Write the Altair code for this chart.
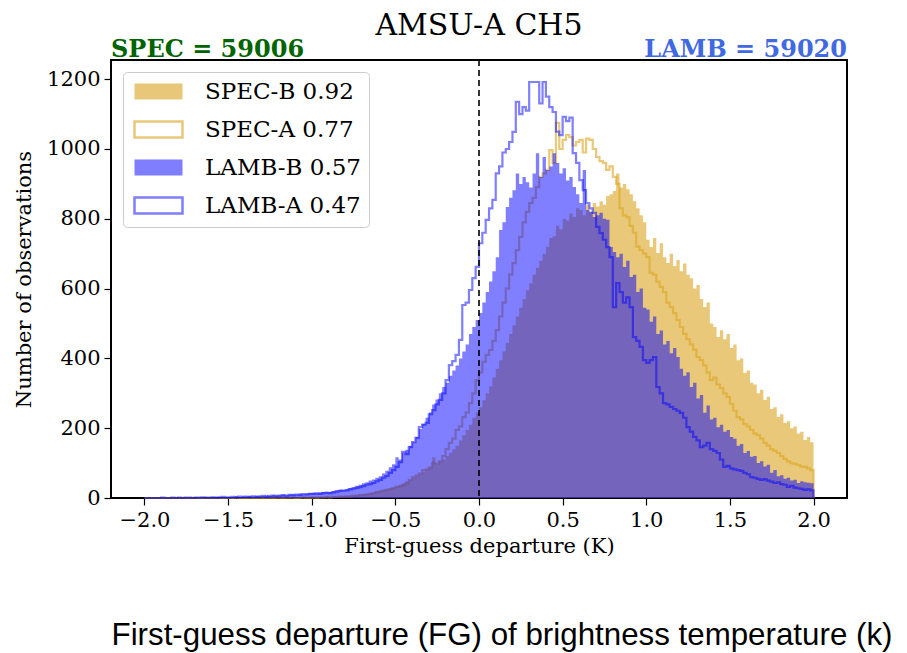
import altair as alt
import pandas as pd

# ---------------- data ----------------
SERIES = ["SPEC-B 0.92", "SPEC-A 0.77", "LAMB-B 0.57", "LAMB-A 0.47"]
BIN_START = -2.0
BIN_WIDTH = 0.02

SPEC_B = [0,0,0,0,0,0,0,0,0,0,
          0,0,0,0,0,0,0,0,0,0,
          0,0,0,0,0,1,0,0,0,1,
          0,0,1,0,0,1,0,1,1,0,
          1,1,0,2,1,1,2,1,2,2,
          2,3,2,3,4,3,4,5,5,6,
          6,7,8,8,10,11,12,14,16,18,
          20,22,25,28,30,34,38,42,48,52,
          58,62,68,75,82,88,117,95,105,110,
          120,130,140,150,165,180,195,210,230,245,
          260,280,300,320,345,370,395,420,445,470,
          495,520,545,570,595,615,640,660,680,700,
          720,745,750,780,770,800,795,815,805,830,
          825,810,840,820,845,835,850,840,865,870,
          880,930,890,900,885,870,850,830,810,790,
          740,719,745,702,730,690,673,700,665,682,
          650,672,640,630,600,610,570,547,560,500,
          490,461,481,455,470,430,440,395,400,358,
          365,330,325,300,310,281,290,255,260,232,
          240,215,220,200,205,185,190,166,175,160]

SPEC_A = [0,0,0,0,0,0,0,0,0,0,
          0,0,0,0,0,0,0,0,0,0,
          0,0,0,0,0,0,0,1,0,0,
          0,1,0,0,1,0,0,1,0,1,
          1,0,1,1,1,0,1,2,1,1,
          2,1,2,2,3,2,3,3,4,4,
          5,4,6,7,8,9,10,12,14,17,
          19,21,23,25,28,32,33,36,42,52,
          60,64,70,80,82,88,100,98,105,120,
          140,158,170,195,205,232,245,272,300,338,
          360,390,410,424,450,481,520,560,600,640,
          673,710,748,790,820,845,860,891,920,930,
          940,997,960,1075,1000,1026,1040,1034,1010,1020,
          1026,990,1030,1026,1000,977,965,960,940,950,
          920,900,830,810,805,780,760,720,710,700,
          690,645,640,620,605,590,560,547,530,510,
          490,470,455,440,425,404,395,380,360,338,
          345,325,315,300,290,270,250,232,225,212,
          205,195,185,180,170,158,150,140,135,129,
          120,112,105,100,98,95,90,89,85,80]

LAMB_B = [0,0,0,0,1,0,0,1,0,1,
          0,1,1,0,1,2,1,1,2,1,
          2,2,3,2,3,3,2,4,3,4,
          4,5,4,6,5,6,7,6,8,7,
          8,9,8,10,11,10,12,11,13,14,
          15,14,16,17,18,17,20,22,24,23,
          26,29,31,35,38,42,45,50,53,58,
          62,70,78,88,97,117,110,130,138,150,
          160,175,198,212,230,245,268,282,300,318,
          330,350,365,380,400,420,440,470,490,510,
          530,560,590,620,650,690,768,790,834,860,
          882,930,900,920,905,890,930,988,920,977,
          940,950,988,960,930,945,910,920,891,870,
          845,940,825,820,805,810,817,800,797,719,
          705,690,700,662,680,633,640,590,600,545,
          540,505,520,470,480,440,450,415,430,404,
          370,350,360,318,330,285,295,244,265,225,
          230,203,210,190,195,175,170,150,155,129,
          135,118,120,100,105,90,95,72,80,62,
          65,55,58,50,52,43,48,45,44,42]

LAMB_A = [0,0,0,0,0,1,0,0,1,0,
          1,0,1,1,0,1,1,2,1,1,
          2,1,2,3,2,2,3,2,4,3,
          4,3,5,4,5,6,4,6,7,6,
          7,8,7,9,8,10,9,11,10,12,
          12,13,12,14,15,14,16,18,20,21,
          22,25,27,29,31,34,38,40,43,48,
          52,58,63,72,80,89,103,132,126,146,
          160,172,203,210,215,240,252,268,281,300,
          338,381,392,410,453,553,560,596,630,662,
          730,760,797,830,854,930,950,990,1000,1020,
          1049,1135,1100,1120,1110,1192,1192,1192,1131,1192,
          1150,1120,1106,1050,1040,1092,1080,1090,988,960,
          911,882,845,830,817,777,759,740,719,690,
          547,616,590,560,575,547,461,450,433,395,
          387,395,404,318,300,272,268,261,255,250,
          244,230,203,190,175,165,146,150,158,140,
          135,129,110,89,92,85,82,80,78,72,
          68,60,58,55,52,54,50,47,43,45,
          40,38,32,35,30,28,26,23,25,22]

X_TICKS = [-2.0, -1.5, -1.0, -0.5, 0.0, 0.5, 1.0, 1.5, 2.0]
Y_TICKS = [0, 200, 400, 600, 800, 1000, 1200]
ZERO_LINE = [0.0]

TITLE = ["AMSU-A CH5"]
SPEC_LABEL = ["SPEC = 59006"]
LAMB_LABEL = ["LAMB = 59020"]
CAPTION = ["First-guess departure (FG) of brightness temperature (k)"]

FILLS = ["#DAA520", "transparent", "#0000FF", "transparent"]
STROKES = ["transparent", "#DAA520", "transparent", "#0000FF"]
OPACITIES = [0.6, 0.6, 0.5, 0.5]

# ---------------- tables ----------------
counts = dict(zip(SERIES, [SPEC_B, SPEC_A, LAMB_B, LAMB_A]))
for s, v in counts.items():
    assert len(v) == 200, (s, len(v))

area_rows, line_rows = [], []
for s, vals in counts.items():
    n = len(vals)
    edges = [round(BIN_START + BIN_WIDTH * i, 2) for i in range(n + 1)]
    line_rows.append({"series": s, "x": edges[0], "count": 0, "ord": 0})
    for i, c in enumerate(vals):
        area_rows.append({"series": s, "x": edges[i], "count": c})
        line_rows.append({"series": s, "x": edges[i], "count": c, "ord": i + 1})
    area_rows.append({"series": s, "x": edges[n], "count": vals[-1]})
    line_rows.append({"series": s, "x": edges[n], "count": vals[-1], "ord": n + 1})
    line_rows.append({"series": s, "x": edges[n], "count": 0, "ord": n + 2})
area_df = pd.DataFrame(area_rows)
line_df = pd.DataFrame(line_rows)

W, H = 736, 438
SERIF = "DejaVu Serif"
# wide rectangle swatch: 48 x 16 px when symbolSize = 256
RECT_PATH = "M-3,-1H3V1H-3Z"

xs = alt.Scale(domain=[-2.2, 2.2], nice=False, zero=False)
ys = alt.Scale(domain=[0, 1255], nice=False, zero=False)
x_enc = alt.X("x:Q", scale=xs,
              axis=alt.Axis(values=X_TICKS, format=".1f",
                            title="First-guess departure (K)", titlePadding=5))
y_enc = alt.Y("count:Q", scale=ys, stack=None,
              axis=alt.Axis(values=Y_TICKS, format="d",
                            title="Number of observations", titlePadding=12))

legend = alt.Legend(title=None, orient="top-left", offset=12,
                    symbolType=RECT_PATH, symbolSize=256, symbolOffset=16,
                    labelOffset=35)
fill_enc = alt.Fill("series:N", scale=alt.Scale(type="ordinal", domain=SERIES, range=FILLS), legend=legend)
stroke_enc = alt.Stroke("series:N", scale=alt.Scale(type="ordinal", domain=SERIES, range=STROKES), legend=legend)
op_enc = alt.Opacity("series:N", scale=alt.Scale(type="ordinal", domain=SERIES, range=OPACITIES), legend=legend)


def area_layer(name):
    return alt.Chart(area_df).transform_filter(alt.datum.series == name).mark_area(
        interpolate="step-after").encode(x=x_enc, y=y_enc, fill=fill_enc, opacity=op_enc)


def line_layer(name):
    return alt.Chart(line_df).transform_filter(alt.datum.series == name).mark_line(
        interpolate="step-after", strokeWidth=2.2).encode(
        x=x_enc, y=y_enc, stroke=stroke_enc, opacity=op_enc, order="ord:Q")


rule = alt.Chart(pd.DataFrame({"x": ZERO_LINE})).mark_rule(
    color="black", strokeDash=[6, 4], strokeWidth=1.6).encode(x=x_enc)


def text_layer(values, x, y, **kw):
    return alt.Chart(pd.DataFrame({"t": values})).mark_text(**kw).encode(
        x=alt.value(x), y=alt.value(y), text="t:N")


title = text_layer(TITLE, W / 2, -25, font=SERIF, fontSize=30, align="center",
                   baseline="alphabetic", color="black")
spec = text_layer(SPEC_LABEL, 0, -3, font=SERIF, fontSize=24, fontWeight="bold",
                  align="left", baseline="alphabetic", color="#006400")
lamb = text_layer(LAMB_LABEL, W, -3, font=SERIF, fontSize=24, fontWeight="bold",
                  align="right", baseline="alphabetic", color="#4169E1")
caption = text_layer(CAPTION, 391, 585, font="Liberation Sans", fontSize=31.3,
                     align="center", baseline="alphabetic", color="black")

chart = alt.layer(
    area_layer(SERIES[0]), line_layer(SERIES[1]),
    area_layer(SERIES[2]), line_layer(SERIES[3]),
    rule, title, spec, lamb, caption,
).properties(
    width=W, height=H,
    autosize=alt.AutoSizeParams(type="none"),
    padding={"left": 103, "top": 52, "right": 52, "bottom": 155},
).configure_view(
    stroke="black", strokeWidth=2
).configure_axis(
    domain=False, grid=False, tickColor="black", tickWidth=1.2, tickSize=7,
    labelFont=SERIF, labelFontSize=21, labelColor="black", labelPadding=4,
    titleFont=SERIF, titleFontSize=21, titleFontWeight="normal", titleColor="black",
).configure_legend(
    labelFont=SERIF, labelFontSize=23, labelColor="black",
    symbolStrokeWidth=2.5, rowPadding=11, padding=8, fillColor="white",
    strokeColor="#cccccc", cornerRadius=4,
)

chart.save("out.html", embed_options={"renderer": "svg", "actions": False})
